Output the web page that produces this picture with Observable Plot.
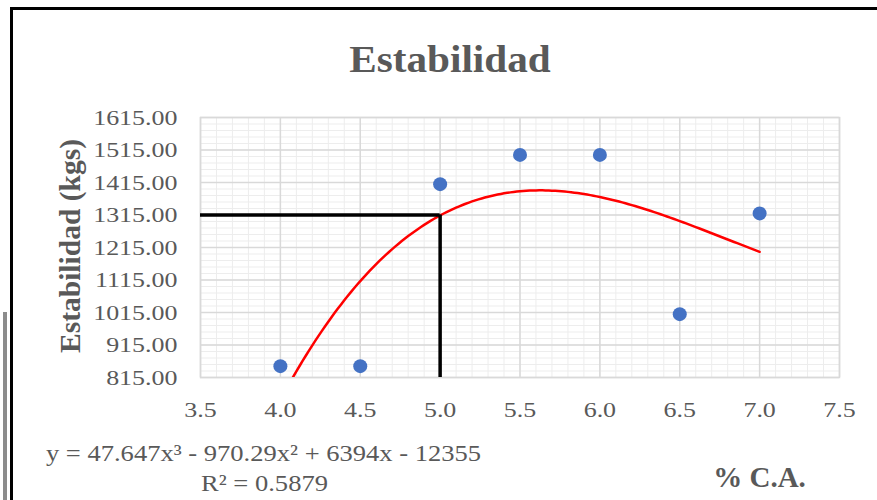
<!DOCTYPE html>
<html>
<head>
<meta charset="utf-8">
<script src="https://cdn.jsdelivr.net/npm/d3@7"></script>
<script src="https://cdn.jsdelivr.net/npm/@observablehq/plot@0.6"></script>
<style>
  html, body { margin: 0; padding: 0; background: #fff; }
  #chart { position: relative; width: 877px; height: 500px; overflow: hidden; background: #fff; }
  #chart svg { position: absolute; left: 0; top: 0; }
  .edge { position: absolute; }
</style>
</head>
<body>
<div id="chart"></div>
<script>
// Marshall test: stability vs. asphalt content
const contenidoCA = [4.0, 4.5, 5.0, 5.5, 6.0, 6.5, 7.0];
const estabilidad = [850, 850, 1410, 1500, 1500, 1010, 1320];

// axis ticks
const xTicks = [3.5, 4.0, 4.5, 5.0, 5.5, 6.0, 6.5, 7.0, 7.5];
const yTicks = [815, 915, 1015, 1115, 1215, 1315, 1415, 1515, 1615];

// polynomial trendline (order 3): x^3, x^2, x, constant
const trendCoef = [47.647, -970.29, 6394, -12355];
const r2 = 0.5879;

// optimum asphalt content and its stability
const optimoCA = 5.0;
const optimoEstab = 1315;

const titulo = "Estabilidad";
const ejeY = "Estabilidad (kgs)";
const ejeX = "% C.A.";

// ---------------------------------------------------------------
const serif = "'Liberation Serif', 'Times New Roman', serif";
const gris = "#595959";

const puntos = contenidoCA.map((x, i) => ({x, y: estabilidad[i]}));
const poly = x => trendCoef[0] * x ** 3 + trendCoef[1] * x ** 2 + trendCoef[2] * x + trendCoef[3];
const curva = d3.range(contenidoCA[0], contenidoCA[contenidoCA.length - 1] + 1e-9, 0.02)
  .map(x => ({x, y: poly(x)}));

const ecuacion = `y = ${trendCoef[0]}x³ - ${-trendCoef[1]}x² + ${trendCoef[2]}x - ${-trendCoef[3]}`;
const r2Texto = `R² = ${r2}`;

const xMinor = d3.range(35, 76).map(v => v / 10);
const yMinor = d3.range(yTicks[0], yTicks[yTicks.length - 1] + 1, 20);

const plot = Plot.plot({
  width: 877,
  height: 500,
  marginTop: 117,
  marginBottom: 123,
  marginLeft: 200,
  marginRight: 38,
  style: {fontFamily: serif, background: "transparent", color: gris},
  x: {domain: [xTicks[0], xTicks[xTicks.length - 1]]},
  y: {domain: [yTicks[0], yTicks[yTicks.length - 1]]},
  marks: [
    Plot.gridX(xMinor, {stroke: "#ededed", strokeOpacity: 1, strokeWidth: 1}),
    Plot.gridY(yMinor, {stroke: "#ededed", strokeOpacity: 1, strokeWidth: 1}),
    Plot.gridX(xTicks, {stroke: "#d9d9d9", strokeOpacity: 1, strokeWidth: 1.5}),
    Plot.gridY(yTicks, {stroke: "#d9d9d9", strokeOpacity: 1, strokeWidth: 1.5}),
    Plot.frame({stroke: "#d9d9d9", strokeWidth: 1.5}),
    Plot.axisX({ticks: xTicks, tickFormat: d => d.toFixed(1), tickSize: 0, tickPadding: 24,
      fontSize: 22, fill: gris, label: null}),
    Plot.axisY({ticks: yTicks, tickFormat: d => d.toFixed(2), tickSize: 0, tickPadding: 23,
      fontSize: 22, fill: gris, label: null}),
    Plot.line(curva, {x: "x", y: "y", stroke: "#ff0000", strokeWidth: 2.5, clip: true}),
    Plot.ruleY([optimoEstab], {x1: xTicks[0], x2: optimoCA, stroke: "#000", strokeWidth: 3.5}),
    Plot.ruleX([optimoCA], {y1: yTicks[0], y2: optimoEstab, stroke: "#000", strokeWidth: 3.5}),
    Plot.dot(puntos, {x: "x", y: "y", r: 7, fill: "#4472c4", stroke: "none"}),
    Plot.text([titulo], {text: d => d, frameAnchor: "top", dx: -70, dy: -46, lineAnchor: "bottom",
      textAnchor: "middle", fontSize: 38.5, fontWeight: "bold", fill: gris}),
    Plot.text([ejeY], {text: d => d, frameAnchor: "left", dx: -130, dy: -1.5, rotate: -90,
      textAnchor: "middle", lineAnchor: "middle", fontSize: 29.5, fontWeight: "bold", fill: gris}),
    Plot.text([ejeX], {text: d => d, frameAnchor: "bottom", dx: 239.5, dy: 109, lineAnchor: "bottom",
      textAnchor: "middle", fontSize: 29, fontWeight: "bold", fill: gris}),
    Plot.text([ecuacion], {text: d => d, frameAnchor: "bottom", dx: -256.5, dy: 83, lineAnchor: "bottom",
      textAnchor: "middle", fontSize: 23.5, fill: gris}),
    Plot.text([r2Texto], {text: d => d, frameAnchor: "bottom", dx: -255.5, dy: 113, lineAnchor: "bottom",
      textAnchor: "middle", fontSize: 23.5, fill: gris})
  ]
});

// widen the serif glyphs horizontally around each text's anchor point
function ensanchar(test, s) {
  plot.querySelectorAll("text").forEach(t => {
    if (!test(t)) return;
    const tr = t.getAttribute("transform");
    if (tr) {
      t.setAttribute("transform", `${tr} scale(${s},1)`);
    } else {
      const x = +(t.getAttribute("x") || 0);
      t.setAttribute("transform", `translate(${x},0) scale(${s},1) translate(${-x},0)`);
    }
  });
}
const esTick = t => {
  const g = t.closest("g[aria-label]");
  return g && /tick label/.test(g.getAttribute("aria-label"));
};
ensanchar(esTick, 1.18);
ensanchar(t => t.textContent === titulo, 1.07);
ensanchar(t => t.textContent === ecuacion || t.textContent === r2Texto, 1.13);

const chart = document.getElementById("chart");
chart.appendChild(plot);

// outer border of the chart object
[
  {left: 10, top: 7, width: 867, height: 3, background: "#000"},
  {left: 10, top: 7, width: 3, height: 493, background: "#000"},
  {left: 3, top: 312, width: 4, height: 188, background: "#8c8c8c"}
].forEach(b => {
  const d = document.createElement("div");
  d.className = "edge";
  Object.assign(d.style, {left: b.left + "px", top: b.top + "px", width: b.width + "px",
    height: b.height + "px", background: b.background});
  chart.appendChild(d);
});
</script>
</body>
</html>
